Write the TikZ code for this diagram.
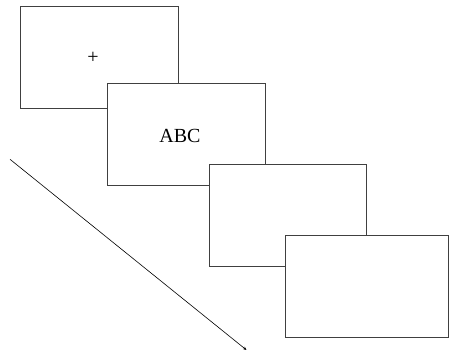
\documentclass[tikz,border=0pt]{standalone}
\usepackage{fontspec}
\setmainfont{Liberation Serif}
\usetikzlibrary{arrows.meta}

\begin{document}
\begin{tikzpicture}[x=1pt,y=-1pt,>/.tip={Stealth[length=3.5pt,width=3pt]},
	screen/.style={draw=black!75,line width=0.9pt,fill=white,inner sep=0pt,outer sep=0pt,minimum height=102pt}]
	\useasboundingbox (0,0) rectangle (450,352);
	\draw (99.2,57.3) node (fix) [screen,minimum width=157.7pt] {};
	\node at (93,58) [font=\fontsize{20}{20}\selectfont] (cross) {+};
	\draw (186,134.2) node (stim) [screen,minimum width=158pt] {};
	\node at (180,136) [font=\fontsize{20}{20}\selectfont] (word) {ABC};
	\draw (287.8,215.7) node (blank) [screen,minimum width=157.7pt] {};
	\draw (367,286.8) node (resp) [screen,minimum width=162.6pt] {};

	\coordinate (tstart) at (10,159.3);
	\coordinate (tend) at (246.5,350);
	\draw[->,line width=0.6pt] (tstart) -- (tend);
\end{tikzpicture}
\end{document}
